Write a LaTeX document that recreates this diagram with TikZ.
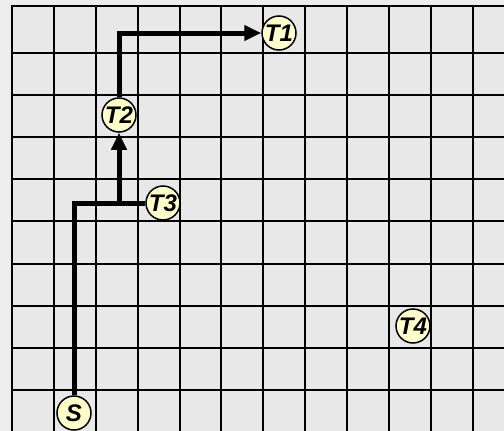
\documentclass[tikz,border=0pt]{standalone}
\usepackage{fontspec}
\setmainfont{Liberation Sans}
\usetikzlibrary{arrows.meta}
\definecolor{bgc}{HTML}{EDEDED}
\definecolor{cellc}{HTML}{E8E8E8}
\definecolor{nodec}{HTML}{FFFFCC}
\begin{document}
\begin{tikzpicture}[x=1pt,y=-1pt,
  gridline/.style={line width=2pt},
  pt/.style={circle,draw,line width=1.5pt,fill=nodec,minimum size=34pt,inner sep=0pt,
    font=\fontsize{24}{24}\selectfont\bfseries\itshape},
  route/.style={line width=5pt},
  routearrow/.style={route,-{Triangle[length=17pt,width=15pt]}}]
\useasboundingbox (0,0) rectangle (504,431);
\fill[bgc] (0,0) rectangle (504,431);
\fill[cellc] (12,6) rectangle (504,431);
\foreach \x in {12,54,96,138,180,221,263,305,347,389,431,473} \draw[gridline] (\x,6) -- (\x,431);
\draw[gridline] (11,6) -- (504,6);
\foreach \y in {53,95,137,179,221,264,306,348,390} \draw[gridline] (12,\y) -- (504,\y);
\node[pt] (S) at (74,413) {S};
\node[pt] (T1) at (279,33) {T1};
\node[pt] (T2) at (119,115) {T2};
\node[pt] (T3) at (163,203) {T3};
\node[pt] (T4) at (413,326) {T4};
\coordinate (J) at (119,203);
\draw[route] (S) |- (T3);
\draw[routearrow] (J) -- (T2);
\draw[routearrow] (T2) |- (T1);
\end{tikzpicture}
\end{document}
